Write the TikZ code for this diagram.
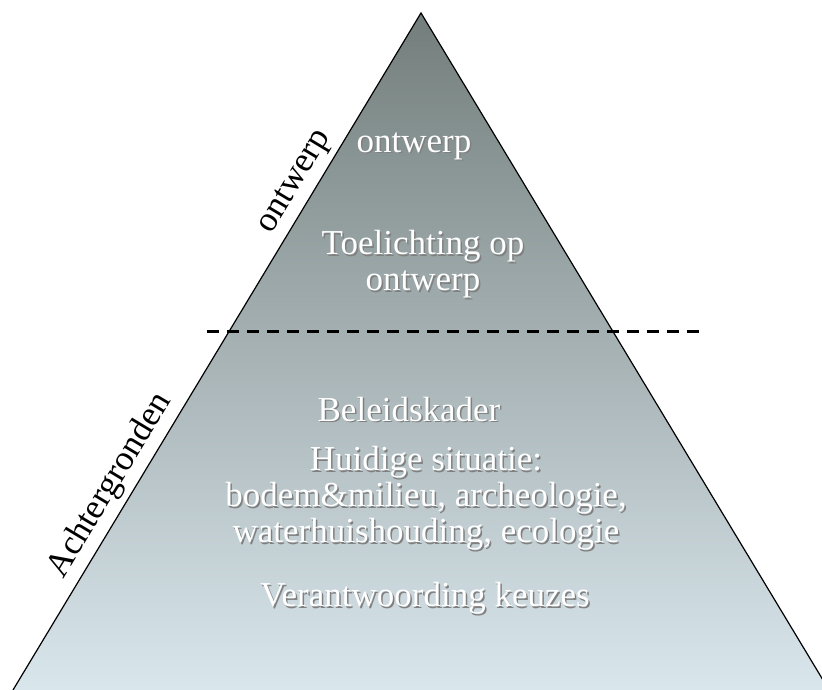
\documentclass[tikz,border=0pt]{standalone}
\usepackage{fontspec}
\setmainfont{Liberation Serif}
\usepackage{xcolor}
\usepackage{tikz}
\usetikzlibrary{positioning,calc}

\definecolor{pyrtop}{HTML}{737E7C}
\definecolor{pyrmid}{HTML}{A9B3B3}
\definecolor{pyrbot}{HTML}{D9E6EC}
% white text with a dark shadow
\newcommand{\emb}[1]{\makebox[0pt][l]{\hspace{1.5bp}\raisebox{-1.5bp}{\textcolor{black!50}{#1}}}\textcolor{white}{#1}}

\begin{document}
\begin{tikzpicture}[x=1bp, y=1bp,
    lbl/.style={font=\fontsize{35bp}{36bp}\selectfont, align=center, inner sep=0pt},
    side/.style={font=\fontsize{35bp}{36bp}\selectfont, sloped, above=3bp}]
  \useasboundingbox (0,0) rectangle (822,690);
  \coordinate (L) at (13,0);
  \coordinate (R) at (829,0);
  \coordinate (T) at (421,677);

  % Pyramid with shading
  \shade[top color=pyrtop, middle color=pyrmid, bottom color=pyrbot] (L) -- (T) -- (R) -- cycle;
  \draw[line width=1.2bp] (L) -- (T) -- (R);

  % Labels along the left side
  \path (L) -- (T)
    node[side, pos=0.285] (achter) {Achtergronden}
    node[side, pos=0.735] (zijontw) {ontwerp};

  % Split between the two parts
  \coordinate (dl) at (207,358);
  \coordinate (dr) at (702,358);
  \draw[line width=3bp, dash pattern=on 12bp off 8bp] (dl) -- (dr);

  % Upper part
  \node[lbl] (ontwerp) at (414,543) {\emb{ontwerp}};
  \node[lbl] (toel) at (423,425) {\emb{Toelichting op}\\\emb{ontwerp}};

  % Lower part
  \node[lbl] (beleid) at (409,280) {\emb{Beleidskader}};
  \node[lbl] (huidig) at (426,191) {\emb{Huidige situatie:}\\\emb{bodem\&milieu, archeologie,}\\\emb{waterhuishouding, ecologie}};
  \node[lbl] (verant) at (425,91) {\emb{Verantwoording keuzes}};
\end{tikzpicture}
\end{document}
